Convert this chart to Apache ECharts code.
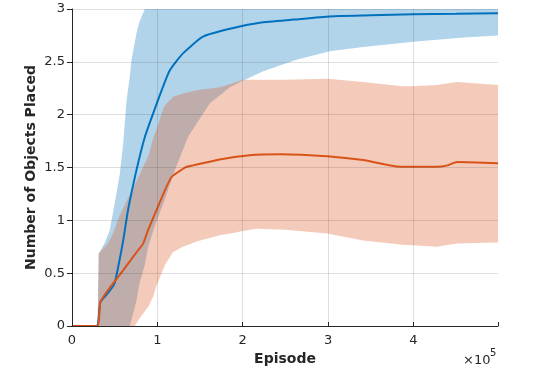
<!DOCTYPE html>
<html>
<head>
<meta charset="utf-8">
<script src="https://cdn.jsdelivr.net/npm/echarts@6.0.0/dist/echarts.min.js"></script>
<style>
  html, body { margin: 0; padding: 0; background: #fff; }
  #chart { width: 550px; height: 370px; }
</style>
</head>
<body>
<div id="chart"></div>
<script>
  // episodes, mean curves
  var blueMeanX = [0, 28600, 33300, 42000, 49700, 55600, 60000, 65700, 75500, 85000, 95000, 105000, 114600, 130000, 154000, 189000, 220000, 260000, 302000, 350000, 400000, 450000, 499000];
  var blueMean = [0, 0, 0.227, 0.31, 0.40, 0.62, 0.81, 1.10, 1.475, 1.78, 2.01, 2.23, 2.42, 2.58, 2.74, 2.82, 2.87, 2.90, 2.93, 2.94, 2.95, 2.955, 2.96];

  var orangeMeanX = [0, 29300, 33300, 42000, 53600, 65700, 77400, 83300, 89000, 99000, 108000, 116600, 125000, 134000, 142000, 173000, 208000, 244000, 299000, 341000, 380000, 427000, 440000, 451000, 499000];
  var orangeMean = [0, 0, 0.227, 0.338, 0.46, 0.59, 0.717, 0.78, 0.906, 1.096, 1.27, 1.41, 1.46, 1.506, 1.52, 1.576, 1.617, 1.626, 1.607, 1.57, 1.51, 1.506, 1.52, 1.553, 1.54];

  // shaded bands (mean +/- spread)
  var blueBandX = [0, 30000, 31300, 38000, 44200, 52000, 56000, 60000, 64000, 67700, 69700, 75500, 79000, 85300, 89000, 97000, 107000, 120500, 136000, 161500, 185000, 197000, 224000, 263000, 302000, 341000, 400000, 459000, 499000];
  var blueUpper = [0, 0, 0.686, 0.78, 0.906, 1.25, 1.44, 1.73, 2.14, 2.36, 2.52, 2.77, 2.88, 3.0, 3.1, 3.25, 3.35, 3.4, 3.45, 3.5, 3.5, 3.5, 3.5, 3.5, 3.5, 3.5, 3.5, 3.5, 3.5];
  var blueLower = [0, 0, 0, 0, 0, 0, 0, 0, 0, 0, 0.06, 0.24, 0.40, 0.58, 0.74, 0.95, 1.16, 1.475, 1.79, 2.107, 2.26, 2.31, 2.41, 2.52, 2.60, 2.64, 2.69, 2.73, 2.75];

  var orangeBandX = [0, 30000, 31300, 42000, 48000, 56000, 68000, 73500, 79000, 90000, 95000, 99000, 107000, 109000, 118500, 130000, 146000, 173000, 189000, 200000, 216000, 250000, 299000, 341000, 387000, 399000, 427000, 451000, 499000];
  var orangeUpper = [0, 0, 0.686, 0.78, 0.875, 1.05, 1.25, 1.34, 1.43, 1.62, 1.78, 1.86, 2.06, 2.09, 2.17, 2.20, 2.23, 2.26, 2.30, 2.33, 2.33, 2.33, 2.34, 2.31, 2.27, 2.27, 2.28, 2.31, 2.28];
  var orangeLower = [0, 0, 0, 0, 0, 0, 0, 0, 0.07, 0.19, 0.28, 0.38, 0.54, 0.58, 0.70, 0.75, 0.80, 0.86, 0.88, 0.90, 0.92, 0.91, 0.875, 0.81, 0.77, 0.764, 0.75, 0.78, 0.79];

  var yTicks = [0, 0.5, 1, 1.5, 2, 2.5, 3];

  var blue = '#0072BD';
  var orange = '#D95319';
  var textColor = '#262626';
  var gridColor = 'rgba(38,38,38,0.15)';
  var font = 'DejaVu Sans';

  function pairs(xs, ys) {
    return xs.map(function (x, i) { return [x, ys[i]]; });
  }

  // one polygon per band, drawn through the axis scales
  function band(name, xs, lo, hi, color) {
    return {
      name: name,
      type: 'custom',
      clip: true,
      silent: true,
      data: xs.map(function (x, i) { return [x, lo[i], hi[i]]; }),
      encode: { x: 0, y: [1, 2] },
      renderItem: function (params, api) {
        if (params.dataIndex !== 0) return null;
        var pts = [];
        for (var i = 0; i < xs.length; i++) pts.push(api.coord([xs[i], hi[i]]));
        for (var j = xs.length - 1; j >= 0; j--) pts.push(api.coord([xs[j], lo[j]]));
        return {
          type: 'polygon',
          shape: { points: pts },
          style: { fill: color, opacity: 0.3 }
        };
      }
    };
  }

  var myChart = echarts.init(document.getElementById('chart'));
  var option = {
    animation: false,
    grid: {
      left: 72,
      right: 52,
      top: 9,
      bottom: 44,
      outerBoundsMode: 'none'
    },
    xAxis: {
      type: 'value',
      min: 0,
      max: 499000,
      interval: 100000,
      z: 10,
      name: 'Episode',
      nameLocation: 'middle',
      nameGap: 26,
      nameMoveOverlap: false,
      nameTextStyle: { color: textColor, fontWeight: 'bold', fontSize: 14, fontFamily: font },
      axisLine: { lineStyle: { color: textColor, width: 1 } },
      axisTick: { inside: true, length: 4, lineStyle: { color: textColor } },
      axisLabel: {
        color: textColor,
        fontSize: 13,
        fontFamily: font,
        margin: 8,
        formatter: function (v) {
          return v % 100000 === 0 ? String(v / 100000) : '';
        }
      },
      splitLine: { show: true, showMinLine: false, showMaxLine: false, lineStyle: { color: gridColor, width: 1 } }
    },
    yAxis: {
      type: 'value',
      min: yTicks[0],
      max: yTicks[yTicks.length - 1],
      interval: 0.5,
      z: 10,
      name: 'Number of Objects Placed',
      nameLocation: 'middle',
      nameGap: 34,
      nameMoveOverlap: false,
      nameTextStyle: { color: textColor, fontWeight: 'bold', fontSize: 14, fontFamily: font },
      axisLine: { show: true, lineStyle: { color: textColor, width: 1 } },
      axisTick: { show: true, length: 5, lineStyle: { color: textColor } },
      axisLabel: { color: textColor, fontSize: 13, fontFamily: font, margin: 7 },
      splitLine: { show: true, showMinLine: false, lineStyle: { color: gridColor, width: 1 } }
    },
    graphic: [
      {
        type: 'text',
        left: 463,
        top: 354,
        style: { text: '×10', fill: textColor, font: '13px "DejaVu Sans"' }
      },
      {
        type: 'text',
        left: 490,
        top: 348,
        style: { text: '5', fill: textColor, font: '10px "DejaVu Sans"' }
      }
    ],
    series: [
      band('blueBand', blueBandX, blueLower, blueUpper, blue),
      {
        name: 'blueMean',
        type: 'line',
        data: pairs(blueMeanX, blueMean),
        showSymbol: false,
        smooth: 0.2,
        lineStyle: { color: blue, width: 2 }
      },
      band('orangeBand', orangeBandX, orangeLower, orangeUpper, orange),
      {
        name: 'orangeMean',
        type: 'line',
        data: pairs(orangeMeanX, orangeMean),
        showSymbol: false,
        smooth: 0.2,
        lineStyle: { color: orange, width: 2 }
      }
    ]
  };
  myChart.setOption(option, true);
</script>
</body>
</html>
